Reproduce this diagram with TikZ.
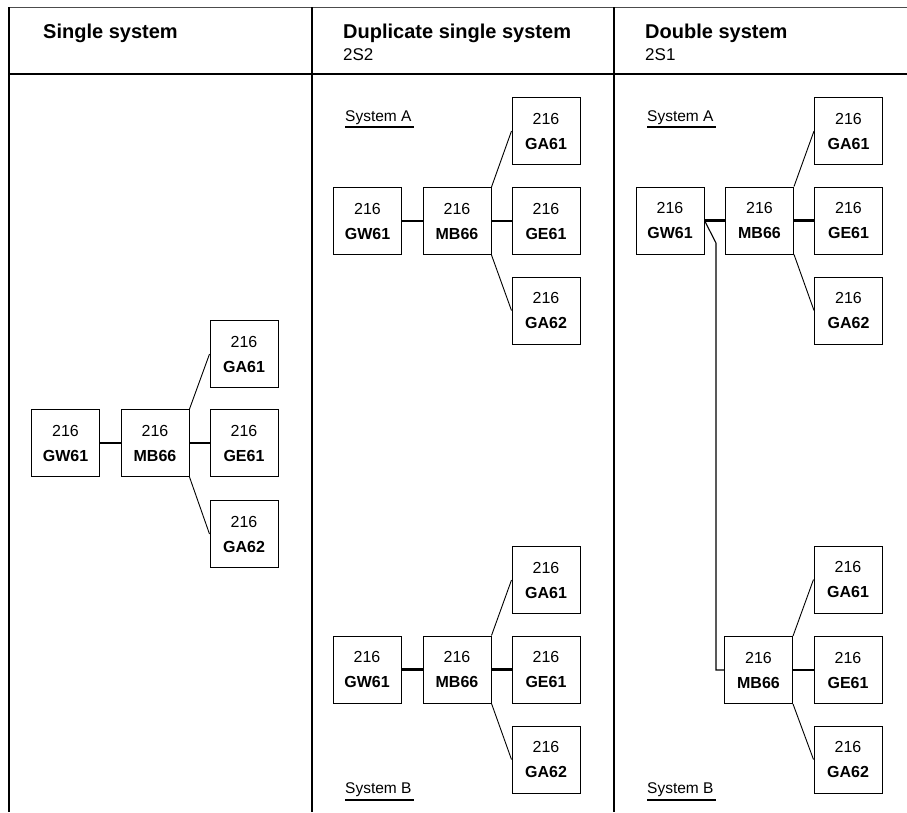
\documentclass[tikz,border=0pt]{standalone}
\usepackage{fontspec}
\setmainfont{Liberation Sans}
\usetikzlibrary{calc}
\newcommand{\bxlabel}[1]{216\\\textbf{#1}}
\begin{document}
\begin{tikzpicture}[x=1pt,y=-1pt,
  bx/.style={draw, line width=1pt, minimum width=68pt, minimum height=67pt, inner sep=0pt, align=center, font=\fontsize{16}{25}\selectfont},
  tlink/.style={line width=2.4pt},
  dlink/.style={line width=0.9pt},
  frame/.style={line width=1.3pt},
  hdr/.style={anchor=base west, inner sep=0pt, font=\fontsize{20}{24}\selectfont\bfseries},
  sub/.style={anchor=base west, inner sep=0pt, font=\fontsize{17}{20}\selectfont},
  sys/.style={anchor=base west, inner sep=0pt, font=\fontsize{15.5}{18}\selectfont},
  uline/.style={line width=2.4pt}]
\useasboundingbox (0,0) rectangle (907,812);
% frame
\draw[line width=1pt, black!70] (9,7) -- (907,7);
\draw[frame] (9,7) -- (9,812);
\draw[line width=2.6pt] (9,74) -- (907,74);
\draw[frame] (312,7) -- (312,812);
\draw[line width=2pt] (614,7) -- (614,812);
% headers
\node[hdr] (h1) at (43,38) {Single system};
\node[hdr] (h2) at (343,38) {Duplicate single system};
\node[sub] (h2s) at (343,60) {2S2};
\node[hdr] (h3) at (645,38) {Double system};
\node[sub] (h3s) at (645,60) {2S1};
% column 1
\node[bx] (agw) at (65.5,443) {\bxlabel{GW61}};
\node[bx] (amb) at (155,443) {\bxlabel{MB66}};
\node[bx] (aga1) at (244,354) {\bxlabel{GA61}};
\node[bx] (age) at (244,443) {\bxlabel{GE61}};
\node[bx] (aga2) at (244,534) {\bxlabel{GA62}};
\draw[tlink] (agw) -- (amb);
\draw[tlink] (amb) -- (age);
\draw[dlink] (amb.north east) -- (aga1.west);
\draw[dlink] (amb.south east) -- (aga2.west);
% column 2 top
\node[sys] (bsa) at (345,121) {System A};
\draw[uline] ($(bsa.base west)+(0,6)$) -- ($(bsa.base east)+(2,6)$);
\node[bx] (bgw) at (367.5,221) {\bxlabel{GW61}};
\node[bx] (bmb) at (457,221) {\bxlabel{MB66}};
\node[bx] (bga1) at (546,131) {\bxlabel{GA61}};
\node[bx] (bge) at (546,221) {\bxlabel{GE61}};
\node[bx] (bga2) at (546,310.5) {\bxlabel{GA62}};
\draw[tlink] (bgw) -- (bmb);
\draw[tlink] (bmb) -- (bge);
\draw[dlink] (bmb.north east) -- (bga1.west);
\draw[dlink] (bmb.south east) -- (bga2.west);
% column 2 bottom
\node[bx] (cgw) at (367,669.5) {\bxlabel{GW61}};
\node[bx] (cmb) at (457,669.5) {\bxlabel{MB66}};
\node[bx] (cga1) at (546,580) {\bxlabel{GA61}};
\node[bx] (cge) at (546,669.5) {\bxlabel{GE61}};
\node[bx] (cga2) at (546,759.5) {\bxlabel{GA62}};
\draw[tlink] (cgw) -- (cmb);
\draw[tlink] (cmb) -- (cge);
\draw[dlink] (cmb.north east) -- (cga1.west);
\draw[dlink] (cmb.south east) -- (cga2.west);
\node[sys] (csb) at (345,793) {System B};
\draw[uline] ($(csb.base west)+(0,7)$) -- ($(csb.base east)+(2,7)$);
% column 3 top
\node[sys] (dsa) at (647,121) {System A};
\draw[uline] ($(dsa.base west)+(0,6)$) -- ($(dsa.base east)+(2,6)$);
\node[bx] (dgw) at (670,220.5) {\bxlabel{GW61}};
\node[bx] (dmb) at (759.5,220.5) {\bxlabel{MB66}};
\node[bx] (dga1) at (848.5,131) {\bxlabel{GA61}};
\node[bx] (dge) at (848.5,220.5) {\bxlabel{GE61}};
\node[bx] (dga2) at (848.5,310.5) {\bxlabel{GA62}};
\draw[tlink] (dgw) -- (dmb);
\draw[tlink] (dmb) -- (dge);
\draw[dlink] (dmb.north east) -- (dga1.west);
\draw[dlink] (dmb.south east) -- (dga2.west);
% column 3 bottom
\node[bx] (emb) at (758.5,670) {\bxlabel{MB66}};
\node[bx] (ega1) at (848,579.5) {\bxlabel{GA61}};
\node[bx] (ege) at (848,670) {\bxlabel{GE61}};
\node[bx] (ega2) at (848,759.5) {\bxlabel{GA62}};
\draw[tlink] (emb) -- (ege);
\draw[dlink] (emb.north east) -- (ega1.west);
\draw[dlink] (emb.south east) -- (ega2.west);
\node[sys] (esb) at (647,793) {System B};
\draw[uline] ($(esb.base west)+(0,7)$) -- ($(esb.base east)+(2,7)$);
% cross link between systems
\coordinate (kink) at (716,243);
\draw[line width=1.1pt] (dgw.east) -- (kink) |- (emb.west);
\end{tikzpicture}
\end{document}
